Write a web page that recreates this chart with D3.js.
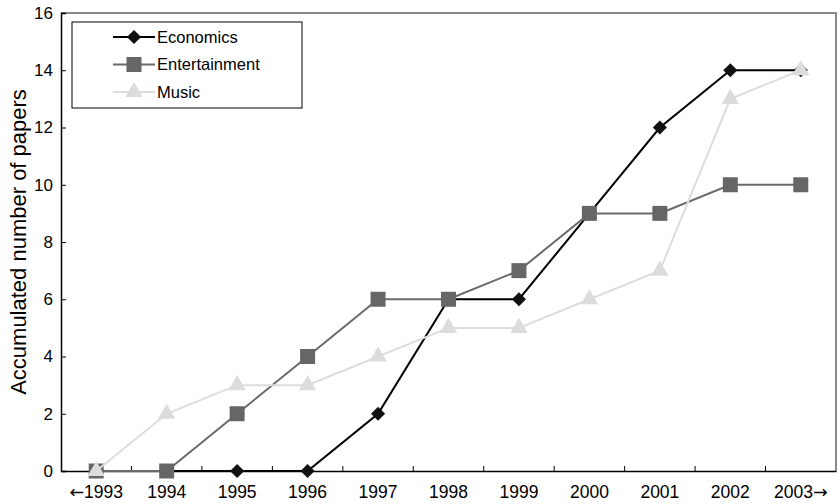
<!DOCTYPE html>
<html><head><meta charset="utf-8">
<script src="https://cdn.jsdelivr.net/npm/d3@7"></script>
<style>body{margin:0;background:#fff}svg{display:block}text{font-family:"Liberation Sans",Arial,sans-serif}</style>
</head><body><svg id="c" width="840" height="504"></svg>
<script>
const years = ["1993","1994","1995","1996","1997","1998","1999","2000","2001","2002","2003"];
const tickLabels = ["\u21901993","1994","1995","1996","1997","1998","1999","2000","2001","2002","2003\u2192"];
const economics = [0,0,0,0,2,6,6,9,12,14,14];
const entertainment = [0,0,2,4,6,6,7,9,9,10,10];
const music = [0,2,3,3,4,5,5,6,7,13,14];
const yTicks = [0,2,4,6,8,10,12,14,16];
const seriesNames = ["Economics","Entertainment","Music"];

const svg = d3.select("#c");
const L=61,R=836,T=13,B=471;
const x = d3.scaleBand().domain(years).range([L,R]).padding(0);
const y = d3.scaleLinear().domain([0,16]).range([B,T]);
const cx = d => x(d)+x.bandwidth()/2;

svg.append("path").attr("d",`M${L},${T}H${R}V${B}`).attr("fill","none").attr("stroke","#888").attr("stroke-width",2);

const ya = svg.append("g").attr("transform",`translate(${L},0)`)
  .call(d3.axisLeft(y).tickValues(yTicks).tickSize(-5).tickPadding(8).tickFormat(d3.format("d")));
ya.select(".domain").attr("stroke","#000").attr("stroke-width",1.5);
ya.selectAll("text").attr("font-size",17).attr("fill","#000").attr("font-family","Liberation Sans, Arial, sans-serif");
ya.selectAll(".tick line").attr("stroke","#000");

const xa = svg.append("g").attr("transform",`translate(0,${B})`)
  .call(d3.axisBottom(x).tickSize(0).tickPadding(15).tickFormat(""));
xa.select(".domain").attr("stroke","#000").attr("stroke-width",1.5);
xa.selectAll(".tick text").each(function(d,i){
  const t = d3.select(this).attr("font-size",17.5).attr("fill","#000").attr("font-family","Liberation Sans, Arial, sans-serif");
  const lab = tickLabels[i];
  const parts = lab.split(/([\u2190\u2192])/).filter(p=>p.length);
  parts.forEach(p=>{
    const ts = t.append("tspan").text(p);
    if (p==="\u2190"||p==="\u2192") ts.attr("font-family","DejaVu Sans");
  });
});
svg.append("g").selectAll("line").data(years.slice(1)).join("line")
  .attr("x1",d=>x(d)).attr("x2",d=>x(d)).attr("y1",B).attr("y2",B-5).attr("stroke","#000");

svg.append("text").attr("transform",`translate(26,${(T+B)/2}) rotate(-90)`)
  .attr("text-anchor","middle").attr("font-size",22).text("Accumulated number of papers");

const line = d3.line().x((d,i)=>cx(years[i])).y(d=>y(d));
const styles = [
  {name:seriesNames[0], data:economics, stroke:"#000", fill:"#111", sym:d3.symbolSquare, size:100, rot:45},
  {name:seriesNames[1], data:entertainment, stroke:"#6a6a6a", fill:"#666", sym:d3.symbolSquare, size:225, rot:0},
  {name:seriesNames[2], data:music, stroke:"#ddd", fill:"#dcdcdc", sym:d3.symbolTriangle, size:130, rot:0}
];
styles.forEach(s=>{
  const g = svg.append("g");
  g.append("path").attr("d",line(s.data)).attr("fill","none").attr("stroke",s.stroke).attr("stroke-width",2);
  g.selectAll("path.m").data(s.data).join("path").attr("class","m")
    .attr("transform",(d,i)=>`translate(${cx(years[i])},${y(d)}) rotate(${s.rot})`)
    .attr("d",d3.symbol().type(s.sym).size(s.size)).attr("fill",s.fill);
});

const lg = svg.append("g");
lg.append("rect").attr("x",72).attr("y",22).attr("width",230).attr("height",86).attr("fill","#fff").attr("stroke","#000").attr("stroke-width",1);
styles.forEach((s,i)=>{
  const yy = 37+i*27.5;
  lg.append("line").attr("x1",113).attr("x2",155).attr("y1",yy).attr("y2",yy).attr("stroke",s.stroke).attr("stroke-width",2);
  lg.append("path").attr("transform",`translate(134,${yy}) rotate(${s.rot})`).attr("d",d3.symbol().type(s.sym).size(s.size)).attr("fill",s.fill);
  lg.append("text").attr("x",157).attr("y",yy).attr("dy","0.35em").attr("font-size",16.5).text(s.name);
});
</script></body></html>
